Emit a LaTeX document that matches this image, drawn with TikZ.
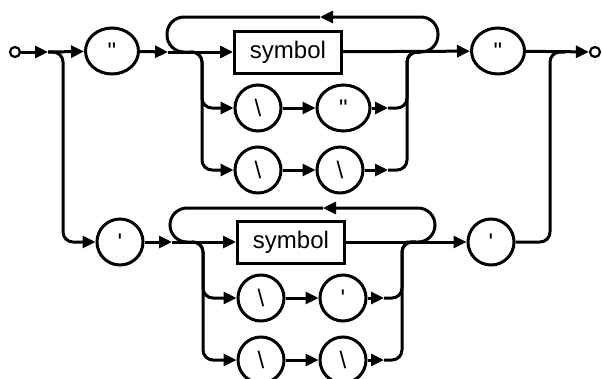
\documentclass[tikz,border=0pt]{standalone}
\usepackage{fontspec}
\newfontfamily\rrfont{Liberation Sans}
\usepackage{tikz}
\usetikzlibrary{arrows.meta,positioning,shapes.geometric}

\begin{document}
\begin{tikzpicture}[x=1pt, y=-1pt, line width=3pt, >={Triangle[length=13pt,width=12pt]},
  font=\rrfont\fontsize{24}{28}\selectfont, node distance=33pt,
  rrterm/.style={draw, ellipse, minimum width=53pt, minimum height=46pt, inner sep=0pt},
  rrchar/.style={draw, circle, minimum size=46pt, inner sep=0pt},
  rrbox/.style={draw, rectangle, minimum width=107pt, minimum height=42pt, inner sep=2pt},
  rrend/.style={draw, circle, fill=white, minimum size=10pt, inner sep=0pt, line width=2.2pt},
  rr/.style={rounded corners=10pt}, rrloop/.style={rounded corners=17pt}]
  \useasboundingbox (0,0) rectangle (603,378);
  % double-quoted string
  \node[rrend](start) at (15,52){};
  \coordinate (ta) at (48,52);
  \node[rrterm](dq1) at (112,51){\symbol{34}};
  \coordinate (tin) at (168,52);
  \node[rrbox](sym1) at (288,52){symbol};
  \node[rrchar](bs1) at (258,108){\textbackslash};
  \node[rrterm, right=of bs1](dq2){\symbol{34}};
  \node[rrchar](bs2) at (258,170){\textbackslash};
  \node[rrchar, right=of bs2](bs3){\textbackslash};
  \node[rrterm](dq3) at (498,51){\symbol{34}};
  \node[rrend](stop) at (595,52){};
  \coordinate (tback) at (320,17);
  \coordinate (tbl) at (190,52);
  \coordinate (tbr) at (420,52);
  \coordinate (tr2) at (388,108);
  \coordinate (tr3) at (388,170);
  \coordinate (tj2) at (565,52);
  % single-quoted string
  \node[rrchar](sq1) at (120,242){\symbol{39}};
  \coordinate (bin) at (172,242);
  \node[rrbox](sym2) at (291,242){symbol};
  \node[rrchar](bs4) at (261,298){\textbackslash};
  \node[rrchar, right=of bs4](sq2){\symbol{39}};
  \node[rrchar](bs5) at (261,360){\textbackslash};
  \node[rrchar, right=of bs5](bs6){\textbackslash};
  \node[rrchar](sq3) at (491,242){\symbol{39}};
  \coordinate (bback) at (323,208);
  \coordinate (bbl) at (192,242);
  \coordinate (bbr) at (416,242);
  \coordinate (br2) at (384,298);
  \coordinate (br3) at (384,360);

  \foreach \a/\b in {start/ta,ta/dq1,dq1/tin,tin/sym1,sym1/dq3,dq3/stop,bs1/dq2,bs2/bs3,dq2/tr2,bs3/tr3,
    sq1/bin,bin/sym2,sym2/sq3,bs4/sq2,bs5/bs6,sq2/br2,bs6/br3}{\draw[->](\a)--(\b);}
  % top loop and branches
  \draw[->, rrloop] (410,52) -- (438,52) -- (438,17) -- (tback);
  \draw[rrloop] (tback) -- (167,17) -- (167,52) -- (tbl);
  \draw[->, rr] (tbl) -- ++(12,0) |- (bs1);
  \draw[->, rr] (tbl) -- ++(12,0) |- (bs2);
  \draw[rr] (tr2) -- ++(19,0) |- (tbr);
  \draw[rr] (tr3) -- ++(19,0) |- (tbr);
  % bottom loop and branches
  \draw[->, rrloop] (406,242) -- (435,242) -- (435,208) -- (bback);
  \draw[rrloop] (bback) -- (170,208) -- (170,242) -- (bbl);
  \draw[->, rr] (bbl) -- ++(11,0) |- (bs4);
  \draw[->, rr] (bbl) -- ++(11,0) |- (bs5);
  \draw[rr] (br2) -- ++(18,0) |- (bbr);
  \draw[rr] (br3) -- ++(18,0) |- (bbr);
  % outer choice
  \draw[->, rr] (ta) -- (63,52) |- (sq1);
  \draw[rr] (sq3) -- (550,242) |- (tj2);
\end{tikzpicture}
\end{document}
